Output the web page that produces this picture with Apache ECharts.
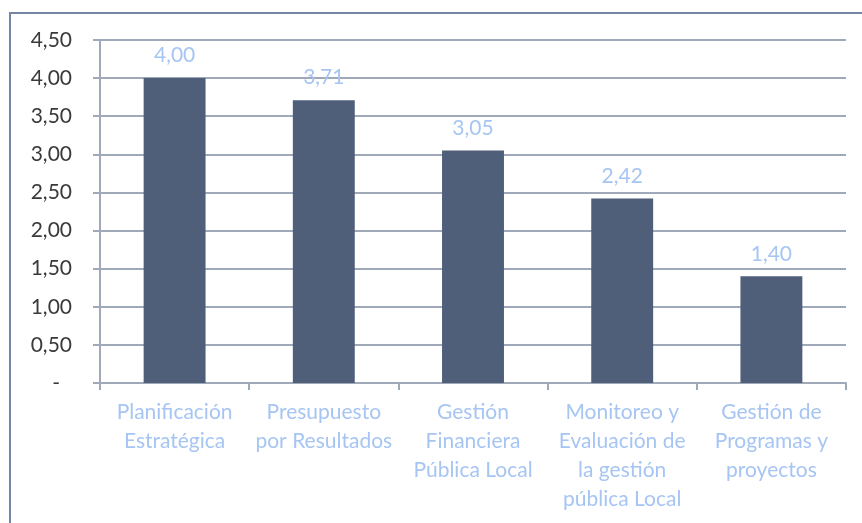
<!DOCTYPE html>
<html>
<head>
<meta charset="utf-8">
<script src="https://cdn.jsdelivr.net/npm/echarts@6/dist/echarts.min.js"></script>
<style>
  html, body { margin: 0; padding: 0; background: #fff; }
  #main { width: 862px; height: 523px; }
</style>
</head>
<body>
<div id="main"></div>
<script>
var categories = [
  'Planificación\nEstratégica',
  'Presupuesto\npor Resultados',
  'Gestión\nFinanciera\nPública Local',
  'Monitoreo y\nEvaluación de\nla gestión\npública Local',
  'Gestión de\nProgramas y\nproyectos'
];
var values = [4.00, 3.71, 3.05, 2.42, 1.40];

var axisGrey = '#a0a9b9';
var labelBlue = '#a6c5f3';

function fmt(v) {
  return v.toFixed(2).replace('.', ',');
}

var chart = echarts.init(document.getElementById('main'));

var option = {
  animation: false,
  graphic: [{
    type: 'rect',
    shape: { x: 10, y: 13, width: 860, height: 520 },
    style: { fill: 'none', stroke: '#7686a2', lineWidth: 2 }
  }],
  grid: {
    left: 100,
    right: 16,
    top: 40,
    bottom: 140
  },
  xAxis: {
    type: 'category',
    data: categories,
    axisLine: { lineStyle: { color: axisGrey, width: 2 } },
    axisTick: { show: true, length: 7, lineStyle: { color: axisGrey, width: 2 } },
    axisLabel: {
      interval: 0,
      color: labelBlue,
      fontFamily: 'Lato',
      fontSize: 21,
      lineHeight: 29,
      margin: 15
    }
  },
  yAxis: {
    type: 'value',
    min: 0,
    max: 4.5,
    interval: 0.5,
    axisLine: { show: true, lineStyle: { color: axisGrey, width: 2 } },
    axisTick: { show: true, length: 7, lineStyle: { color: axisGrey, width: 2 } },
    splitLine: { lineStyle: { color: axisGrey, width: 2 } },
    axisLabel: {
      color: '#3a3a3a',
      fontFamily: 'Lato',
      fontSize: 21,
      margin: 28,
      formatter: function (v) {
        return v === 0 ? '{d|-}' : fmt(v);
      },
      rich: {
        d: { color: '#3a3a3a', fontFamily: 'Lato', fontSize: 21, padding: [0, 12, 0, 0] }
      }
    }
  },
  series: [{
    type: 'bar',
    data: values,
    barWidth: '41.5%',
    itemStyle: { color: '#4f5f7a' },
    label: {
      show: true,
      position: 'top',
      distance: 12,
      color: labelBlue,
      fontFamily: 'Lato',
      fontSize: 21,
      formatter: function (p) { return fmt(p.value); }
    }
  }]
};

chart.setOption(option);
</script>
</body>
</html>
